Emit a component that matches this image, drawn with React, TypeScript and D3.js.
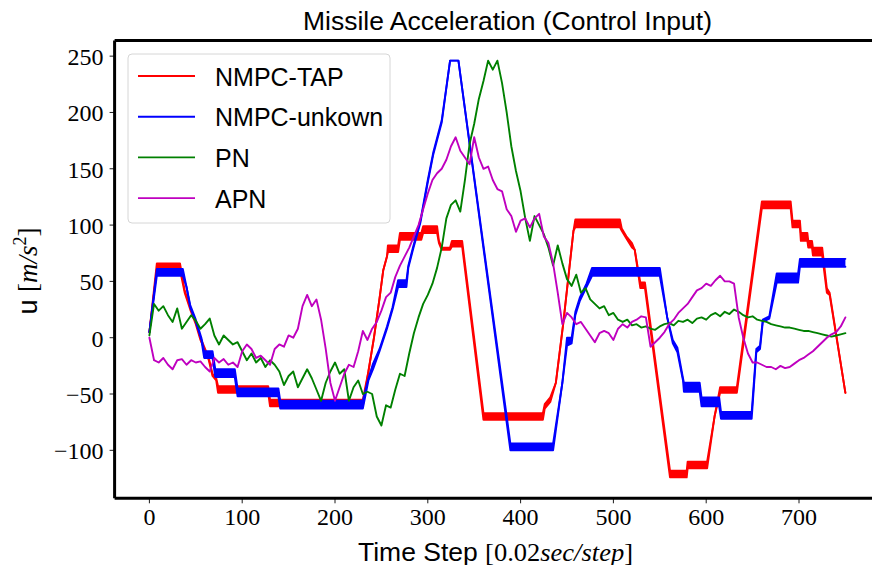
import React from "react";
import * as d3 from "d3";

const W = 872;
const H = 565;

// NMPC-TAP: knots (time step, chatter low, chatter high)
const tapT = [0,8,33,38,44,50,55,60,64,68,72,74,128,130,230,236,242,248,252,256,257,268,270,293,295,310,312,315,324,326,337,360,424,426,432,438,446,457,459,507,509,514,520,523,529,534,561,579,580,601,609,615,633,660,691,693,701,702,709,710,714,715,725,730,733,750];
const tapLo = [5,60,60,40,25,12,-2,-12,-20,-34,-38,-49,-49,-61,-61,-30,0,35,60,72,76,76,87,87,93,93,84,78,78,81,81,-73,-73,-63,-57,-40,13,95,98,98,95,88,80,78,44,44,-124,-124,-116,-116,-70,-49,-49,115,115,98,98,86,86,80,80,73,73,40,38,-49];
const tapHi = [5,66,66,42,27,14,0,-10,-18,-32,-36,-43,-43,-55,-55,-30,0,35,60,72,82,82,93,93,99,99,86,80,80,86,86,-67,-67,-59,-53,-40,13,95,105,105,97,90,84,78,49,49,-118,-118,-110,-110,-70,-44,-44,121,121,104,104,93,93,86,86,80,80,44,40,-49];

// NMPC-unkown
const unkT = [0,8,36,40,44,50,56,59,68,71,92,95,139,141,230,236,241,248,256,262,268,277,279,284,292,300,306,315,324,333,389,435,445,450,455,459,464,471,477,550,558,564,569,575,576,593,595,614,616,649,654,658,661,668,676,699,701,750];
const unkLo = [5,55,55,45,27,14,-2,-18,-18,-35,-35,-52,-52,-63,-63,-38,-28,-12,8,25,45,45,62,78,102,138,163,191,246,246,-100,-100,-40,-7,-5,20,33,45,55,55,18,-5,-13,-38,-48,-48,-61,-61,-72,-72,-13,-10,14,17,49,49,63,63];
const unkHi = [5,61,61,45,29,16,0,-12,-12,-28,-28,-45,-45,-56,-56,-36,-23,-10,10,27,51,51,64,80,104,140,165,193,246,246,-94,-94,-40,0,0,23,36,48,62,62,18,-2,-9,-36,-40,-40,-53,-53,-66,-66,-10,-7,16,19,57,57,70,70];

// PN and APN sampled every 5 time steps (t = 0..750)
const sampleStep = 5;
const pnValues = [
  2,30,24,28,20,14,26,8,14,20,
  15,8,12,17,2,-6,2,-2,-6,-4,
  -12,-20,-14,-22,-18,-26,-20,-24,-30,-42,
  -34,-30,-44,-36,-28,-36,-46,-56,-40,-30,
  -22,-32,-28,-56,-44,-38,-50,-48,-50,-70,
  -78,-60,-62,-46,-32,-34,-14,4,18,30,
  38,48,62,80,106,118,122,112,140,172,
  190,212,228,246,238,246,226,200,170,148,
  130,106,86,108,100,92,80,64,82,66,
  52,46,56,40,44,34,30,26,28,20,
  22,16,14,16,11,12,9,10,8,7,
  10,12,13,11,15,14,16,13,17,18,
  16,20,22,19,23,21,25,23,20,18,
  19,16,15,14,12,11,10,9,9,8,
  7,6,6,5,4,3,2,1,2,3,
  4
];
const apnValues = [
  0,-20,-22,-18,-24,-28,-20,-19,-24,-20,
  -22,-21,-26,-30,-18,-22,-19,-24,-22,-26,
  -12,-6,-10,-18,-16,-20,-24,-10,-6,-8,
  2,0,8,28,38,28,34,16,-10,-40,
  -56,-44,-32,-24,-26,-12,6,-2,8,14,
  24,36,40,54,64,72,80,90,100,114,
  128,140,146,150,158,170,178,166,160,154,
  178,160,150,152,140,132,130,114,108,94,
  104,106,98,106,110,90,84,66,40,12,
  22,18,12,14,8,2,-4,4,6,4,
  -2,8,12,9,14,16,19,18,-8,-4,
  0,5,12,16,22,26,30,36,42,44,
  48,46,51,55,50,50,48,18,0,-14,
  -22,-22,-24,-26,-26,-28,-25,-27,-26,-23,
  -20,-18,-15,-12,-8,-4,0,3,5,10,
  18
];

const xTicks = [0, 100, 200, 300, 400, 500, 600, 700];
const yTicks = [-100, -50, 0, 50, 100, 150, 200, 250];
const seriesNames = ["NMPC-TAP", "NMPC-unkown", "PN", "APN"];
const seriesColors = ["#ff0000", "#0000ff", "#008000", "#bf00bf"];

const SANS = "'Liberation Sans', Arial, sans-serif";
const SERIF = "'Liberation Serif', 'Times New Roman', serif";

export default function App() {
  const left = 114.6, right = 880.2, top = 40.5, bottom = 498.3;
  const x = d3.scaleLinear().domain([-37.5, 787.5]).range([left, right]);
  const y = d3.scaleLinear().domain([-142.6, 263.9]).range([bottom, top]);

  const band = (T: number[], lo: number[], hi: number[]) => {
    const pts = T.map((t, i) => ({ t, lo: lo[i], hi: hi[i] }));
    const area = d3.area<any>().x((d) => x(d.t)).y0((d) => y(d.lo)).y1((d) => y(d.hi))(pts) || "";
    const l1 = d3.line<any>().x((d) => x(d.t)).y((d) => y(d.lo))(pts) || "";
    const l2 = d3.line<any>().x((d) => x(d.t)).y((d) => y(d.hi))(pts) || "";
    return { area, l1, l2 };
  };
  const tap = band(tapT, tapLo, tapHi);
  const unk = band(unkT, unkLo, unkHi);
  const noisy = (vals: number[]) =>
    d3.line<number>().x((_, i) => x(i * sampleStep)).y((v) => y(v))(vals) || "";
  const pnPath = noisy(pnValues);
  const apnPath = noisy(apnValues);

  const lw = 1.9;

  return (
    <svg
      width={W}
      height={H}
      viewBox={`0 0 ${W} ${H}`}
      style={{ position: "absolute", left: 0, top: 0, display: "block", background: "#fff" }}
    >
      <defs>
        <clipPath id="plotClip">
          <rect x={left} y={top} width={right - left} height={bottom - top} />
        </clipPath>
      </defs>
      <rect x={0} y={0} width={W} height={H} fill="#fff" />

      <g clipPath="url(#plotClip)" strokeLinejoin="round" strokeLinecap="round" fill="none">
        <path d={tap.area} fill={seriesColors[0]} stroke="none" />
        <path d={tap.l1} stroke={seriesColors[0]} strokeWidth={lw} />
        <path d={tap.l2} stroke={seriesColors[0]} strokeWidth={lw} />
        <path d={unk.area} fill={seriesColors[1]} stroke="none" />
        <path d={unk.l1} stroke={seriesColors[1]} strokeWidth={lw} />
        <path d={unk.l2} stroke={seriesColors[1]} strokeWidth={lw} />
        <path d={pnPath} stroke={seriesColors[2]} strokeWidth={lw} />
        <path d={apnPath} stroke={seriesColors[3]} strokeWidth={lw} />
      </g>

      {/* spines */}
      <line x1={left} x2={left} y1={top} y2={bottom} stroke="#000" strokeWidth={3} />
      <line x1={left} x2={W + 10} y1={top} y2={top} stroke="#000" strokeWidth={3} />
      <line x1={left} x2={W + 10} y1={bottom} y2={bottom} stroke="#000" strokeWidth={3} />

      {/* x ticks */}
      {xTicks.map((t) => (
        <g key={"x" + t}>
          <line x1={x(t)} x2={x(t)} y1={bottom} y2={bottom + 5} stroke="#000" strokeWidth={0.9} />
          <text x={x(t)} y={525} textAnchor="middle" fontFamily={SERIF} fontSize={24}>
            {t}
          </text>
        </g>
      ))}

      {/* y ticks */}
      {yTicks.map((v) => (
        <g key={"y" + v}>
          <line x1={left - 5} x2={left} y1={y(v)} y2={y(v)} stroke="#000" strokeWidth={0.9} />
          <text x={103.5} y={y(v) + 9} textAnchor="end" fontFamily={SERIF} fontSize={24}>
            {v < 0 ? "\u2212" + Math.abs(v) : String(v)}
          </text>
        </g>
      ))}

      {/* title */}
      <text x={507.5} y={30} textAnchor="middle" fontFamily={SANS} fontSize={25} textLength={409} lengthAdjust="spacingAndGlyphs">
        Missile Acceleration (Control Input)
      </text>

      {/* x label */}
      <text x={495.5} y={560.5} textAnchor="middle" fontSize={26} textLength={275} lengthAdjust="spacingAndGlyphs">
        <tspan fontFamily={SANS}>Time Step </tspan>
        <tspan fontFamily={SERIF}>[0.02</tspan>
        <tspan fontFamily={SERIF} fontStyle="italic">sec/step</tspan>
        <tspan fontFamily={SERIF}>]</tspan>
      </text>

      {/* y label */}
      <text transform={`translate(37,271) rotate(-90)`} textAnchor="middle" fontSize={27}>
        <tspan fontFamily={SANS}>u </tspan>
        <tspan fontFamily={SERIF}>[</tspan>
        <tspan fontFamily={SERIF} fontStyle="italic">m/s</tspan>
        <tspan fontFamily={SERIF} fontSize={18} dy={-11}>2</tspan>
        <tspan fontFamily={SERIF} dy={11}>]</tspan>
      </text>

      {/* legend */}
      <g>
        <rect x={128} y={54} width={262} height={169} rx={4} ry={4} fill="#fff" fillOpacity={0.8} stroke="#d6d6d6" strokeWidth={1} />
        {seriesNames.map((name, i) => {
          const cy = 76 + i * 40.7;
          return (
            <g key={name}>
              <line x1={138} x2={195} y1={cy} y2={cy} stroke={seriesColors[i]} strokeWidth={lw} />
              <text x={215} y={cy + 9.5} fontFamily={SANS} fontSize={25}>
                {name}
              </text>
            </g>
          );
        })}
      </g>
    </svg>
  );
}
